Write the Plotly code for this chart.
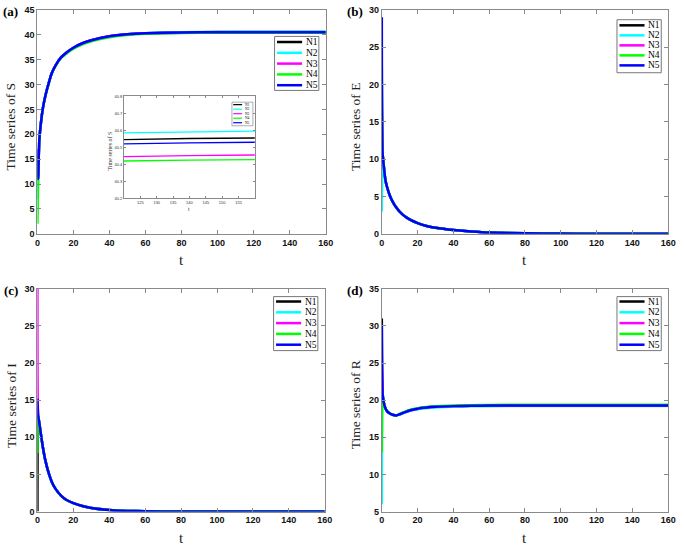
import plotly.graph_objects as go

W, H = 685, 550

series_names = ["N1", "N2", "N3", "N4", "N5"]
series_colors = ["#000000", "#00FFFF", "#FF00FF", "#00FF00", "#0000FF"]

# time grid (same sampling for every panel)
t = [0, 0.4, 1, 2, 3, 4.5, 6.5, 8, 10, 13, 16, 20, 25, 30, 40, 50, 60, 80, 100, 120, 140, 160]

# (a) susceptible S
S_N1 = [14, 11, 18.6, 22.5, 25.2, 27.9, 30.6, 32.3, 33.8, 35.4, 36.4, 37.4, 38.3, 38.9, 39.7, 40.1, 40.3, 40.48, 40.54, 40.548, 40.552, 40.555]
S_N2 = [7, 11, 18.6, 22.5, 25.2, 27.9, 30.6, 32.3, 33.8, 35.4, 36.4, 37.4, 38.3, 38.9, 39.7, 40.1, 40.3, 40.50, 40.58, 40.585, 40.590, 40.595]
S_N3 = [16, 11, 18.6, 22.5, 25.2, 27.9, 30.6, 32.3, 33.8, 35.4, 36.4, 37.4, 38.3, 38.9, 39.7, 40.1, 40.3, 40.42, 40.44, 40.448, 40.452, 40.455]
S_N4 = [2, 11, 18.6, 22.5, 25.2, 27.9, 30.6, 32.3, 33.7, 35.3, 36.2, 37.2, 38.1, 38.7, 39.5, 39.95, 40.2, 40.38, 40.41, 40.420, 40.425, 40.428]
S_N5 = [17, 11, 18.6, 22.5, 25.2, 27.9, 30.6, 32.3, 33.8, 35.4, 36.4, 37.4, 38.3, 38.9, 39.7, 40.1, 40.3, 40.47, 40.515, 40.522, 40.526, 40.530]

# (b) exposed E
E_N1 = [20, 10.9, 9.3, 7.2, 6.2, 5.1, 4.1, 3.55, 2.95, 2.3, 1.85, 1.42, 1.05, 0.8, 0.5, 0.32, 0.18, 0.07, 0.03, 0.01, 0.005, 0.0]
E_N2 = [3, 10.9, 9.3, 7.2, 6.2, 5.1, 4.1, 3.55, 2.95, 2.3, 1.85, 1.42, 1.05, 0.8, 0.5, 0.32, 0.18, 0.07, 0.03, 0.01, 0.005, 0.0]
E_N3 = [16.4, 10.9, 9.3, 7.2, 6.2, 5.1, 4.1, 3.55, 2.95, 2.3, 1.85, 1.42, 1.05, 0.8, 0.5, 0.32, 0.18, 0.07, 0.03, 0.01, 0.005, 0.0]
E_N4 = [22, 10.9, 9.3, 7.2, 6.2, 5.1, 4.1, 3.55, 2.95, 2.3, 1.85, 1.42, 1.05, 0.8, 0.5, 0.32, 0.18, 0.07, 0.03, 0.01, 0.005, 0.0]
E_N5 = [29, 10.9, 9.3, 7.2, 6.2, 5.1, 4.1, 3.55, 2.95, 2.3, 1.85, 1.42, 1.05, 0.8, 0.5, 0.32, 0.18, 0.07, 0.03, 0.01, 0.005, 0.0]

# (c) infected I
I_N1 = [0, 12.9, 12.0, 10.3, 8.7, 6.8, 5.0, 4.0, 3.1, 2.2, 1.6, 1.15, 0.75, 0.5, 0.22, 0.1, 0.05, 0.01, 0.0, 0.0, 0.0, 0.0]
I_N2 = [14, 12.9, 12.0, 10.3, 8.7, 6.8, 5.0, 4.0, 3.1, 2.2, 1.6, 1.15, 0.75, 0.5, 0.22, 0.1, 0.05, 0.01, 0.0, 0.0, 0.0, 0.0]
I_N3 = [30, 12.9, 12.0, 10.3, 8.7, 6.8, 5.0, 4.0, 3.1, 2.2, 1.6, 1.15, 0.75, 0.5, 0.22, 0.1, 0.05, 0.01, 0.0, 0.0, 0.0, 0.0]
I_N4 = [7.9, 12.9, 12.0, 10.3, 8.7, 6.8, 5.0, 4.0, 3.1, 2.2, 1.6, 1.15, 0.75, 0.5, 0.22, 0.1, 0.05, 0.01, 0.0, 0.0, 0.0, 0.0]
I_N5 = [15.2, 12.9, 12.0, 10.3, 8.7, 6.8, 5.0, 4.0, 3.1, 2.2, 1.6, 1.15, 0.75, 0.5, 0.22, 0.1, 0.05, 0.01, 0.0, 0.0, 0.0, 0.0]

# (d) recovered R
R_N1 = [31, 21.0, 19.8, 18.9, 18.5, 18.2, 18.0, 17.95, 18.1, 18.4, 18.65, 18.85, 19.0, 19.1, 19.2, 19.25, 19.28, 19.3, 19.3, 19.3, 19.3, 19.3]
R_N2 = [6, 21.0, 19.8, 18.9, 18.5, 18.2, 18.0, 17.95, 18.05, 18.33, 18.57, 18.77, 18.92, 19.02, 19.12, 19.17, 19.2, 19.22, 19.22, 19.22, 19.22, 19.22]
R_N3 = [25, 21.0, 19.8, 18.9, 18.5, 18.2, 18.0, 17.95, 18.1, 18.4, 18.65, 18.85, 19.0, 19.1, 19.2, 19.25, 19.28, 19.3, 19.3, 19.3, 19.3, 19.3]
R_N4 = [13, 21.0, 19.8, 18.9, 18.5, 18.2, 18.0, 17.95, 18.15, 18.47, 18.73, 18.93, 19.08, 19.18, 19.28, 19.33, 19.36, 19.38, 19.38, 19.38, 19.38, 19.38]
R_N5 = [30, 21.0, 19.8, 18.9, 18.5, 18.2, 18.0, 17.95, 18.1, 18.4, 18.65, 18.85, 19.0, 19.1, 19.2, 19.25, 19.28, 19.3, 19.3, 19.3, 19.3, 19.3]

panels = [
    ("a", "S", [S_N1, S_N2, S_N3, S_N4, S_N5], [0, 45], "x", "y"),
    ("b", "E", [E_N1, E_N2, E_N3, E_N4, E_N5], [0, 30], "x2", "y2"),
    ("c", "I", [I_N1, I_N2, I_N3, I_N4, I_N5], [0, 30], "x3", "y3"),
    ("d", "R", [R_N1, R_N2, R_N3, R_N4, R_N5], [5, 35], "x4", "y4"),
]

# pixel boxes of plot areas: (left, right, top, bottom)
boxes = {
    "a": (35, 328, 5, 233),
    "b": (385, 676, 5, 233),
    "c": (35, 327, 289, 516),
    "d": (385, 676, 289, 516),
    "inset": (123, 256, 93, 197),
}


def px(x):
    return x / W


def py(y):
    return 1 - y / H


fig = go.Figure()

for key, var, series, yr, xa, ya in panels:
    for name, color, vals in zip(series_names, series_colors, series):
        fig.add_trace(go.Scatter(
            x=t, y=vals, mode="lines", name=name, xaxis=xa, yaxis=ya,
            line=dict(color=color, width=2.5, shape="spline", smoothing=0.6),
            showlegend=False, hoverinfo="skip"))

# inset of panel (a)
for name, color, vals in zip(series_names, series_colors, panels[0][2]):
    fig.add_trace(go.Scatter(
        x=t, y=vals, mode="lines", name=name, xaxis="x5", yaxis="y5",
        line=dict(color=color, width=1.3), showlegend=False, hoverinfo="skip"))

frame = "#8a8a8a"
tickfont = dict(family="Liberation Sans, Arial, sans-serif", size=9, color="#111", weight="bold")


def axis_common(**kw):
    d = dict(showline=True, linecolor=frame, linewidth=1, mirror="ticks", ticks="inside",
             ticklen=4, tickcolor=frame, showgrid=False, zeroline=False, tickfont=tickfont)
    d.update(kw)
    return d


layout = dict(width=W, height=H, margin=dict(l=0, r=0, t=0, b=0),
              paper_bgcolor="white", plot_bgcolor="white", showlegend=False)

for i, (key, var, series, yr, xa, ya) in enumerate(panels):
    l, r, tp, bt = boxes[key]
    sfx = "" if i == 0 else str(i + 1)
    layout["xaxis" + sfx] = axis_common(domain=[px(l), px(r)], range=[0, 160], dtick=20, tick0=0,
                                        anchor="y" + sfx)
    layout["yaxis" + sfx] = axis_common(domain=[py(bt), py(tp)], range=yr, dtick=5, tick0=0,
                                        anchor="x" + sfx)

il, ir, itp, ibt = boxes["inset"]
small = dict(family="Liberation Sans, Arial, sans-serif", size=4, color="#333")
layout["xaxis5"] = axis_common(domain=[px(il), px(ir)], range=[120, 160], tickvals=[125, 130, 135, 140, 145, 150, 155],
                               anchor="y5", ticklen=2, tickfont=small)
layout["yaxis5"] = axis_common(domain=[py(ibt), py(itp)], range=[40.2, 40.8], dtick=0.1, tick0=40.2,
                               tickformat=".1f", anchor="x5", ticklen=2, tickfont=small)

fig.update_layout(**layout)

serif = "Liberation Serif, Times New Roman, serif"
annotations = []
shapes = []

# panel letters, axis titles
for key, var, series, yr, xa, ya in panels:
    l, r, tp, bt = boxes[key]
    annotations.append(dict(text="(" + key + ")", x=px(l - 27), y=py(tp + 2), xref="paper", yref="paper",
                            showarrow=False, xanchor="center", yanchor="middle",
                            font=dict(family=serif, size=13, color="black", weight="bold")))
    annotations.append(dict(text="Time series of " + var, x=px(l - 27), y=py((tp + bt) / 2 + 5),
                            xref="paper", yref="paper", showarrow=False, textangle=-90,
                            xanchor="center", yanchor="middle",
                            font=dict(family=serif, size=13.5, color="#222")))
    annotations.append(dict(text="t", x=px((l + r) / 2), y=py(bt + 27), xref="paper", yref="paper",
                            showarrow=False, xanchor="center", yanchor="middle",
                            font=dict(family=serif, size=15, color="#222")))

# inset titles
annotations.append(dict(text="Time series of S", x=px(il - 14), y=py((itp + ibt) / 2 + 4), xref="paper", yref="paper",
                        showarrow=False, textangle=-90, xanchor="center", yanchor="middle",
                        font=dict(family=serif, size=6, color="#333")))
annotations.append(dict(text="t", x=px((il + ir) / 2), y=py(ibt + 11), xref="paper", yref="paper",
                        showarrow=False, xanchor="center", yanchor="middle",
                        font=dict(family=serif, size=6, color="#333")))

# legends (pixel geometry)
legends = [
    dict(box=(276, 32, 321, 87), row0=37.7, step=11, lx=(278.5, 304), tx=305.5, fs=9.5, lw=2.5),
    dict(box=(624, 15, 669, 69), row0=20.7, step=10.2, lx=(626.5, 652), tx=653.5, fs=9.5, lw=2.5),
    dict(box=(275, 297, 320, 352), row0=302, step=11, lx=(277.5, 303), tx=304.5, fs=9.5, lw=2.5),
    dict(box=(624, 297, 669, 352), row0=302, step=11, lx=(626.5, 652), tx=653.5, fs=9.5, lw=2.5),
    dict(box=(232.7, 99, 254, 123), row0=101.5, step=4.6, lx=(234, 243), tx=244, fs=3.6, lw=1.2),
]
for lg in legends:
    x0, y0, x1, y1 = lg["box"]
    shapes.append(dict(type="rect", xref="paper", yref="paper", x0=px(x0), x1=px(x1), y0=py(y1), y1=py(y0),
                       line=dict(color="#777", width=1 if lg["fs"] > 5 else 0.6), fillcolor="white", layer="above"))
    for k, (name, color) in enumerate(zip(series_names, series_colors)):
        yy = lg["row0"] + k * lg["step"]
        shapes.append(dict(type="line", xref="paper", yref="paper", x0=px(lg["lx"][0]), x1=px(lg["lx"][1]),
                           y0=py(yy), y1=py(yy), line=dict(color=color, width=lg["lw"]), layer="above"))
        annotations.append(dict(text=name, x=px(lg["tx"]), y=py(yy), xref="paper", yref="paper",
                                showarrow=False, xanchor="left", yanchor="middle",
                                font=dict(family=serif, size=lg["fs"], color="black")))

fig.update_layout(annotations=annotations, shapes=shapes)
fig.write_html("out.html", config={"displayModeBar": False},
               post_script="document.body.style.margin='0';document.body.style.overflow='hidden';")
